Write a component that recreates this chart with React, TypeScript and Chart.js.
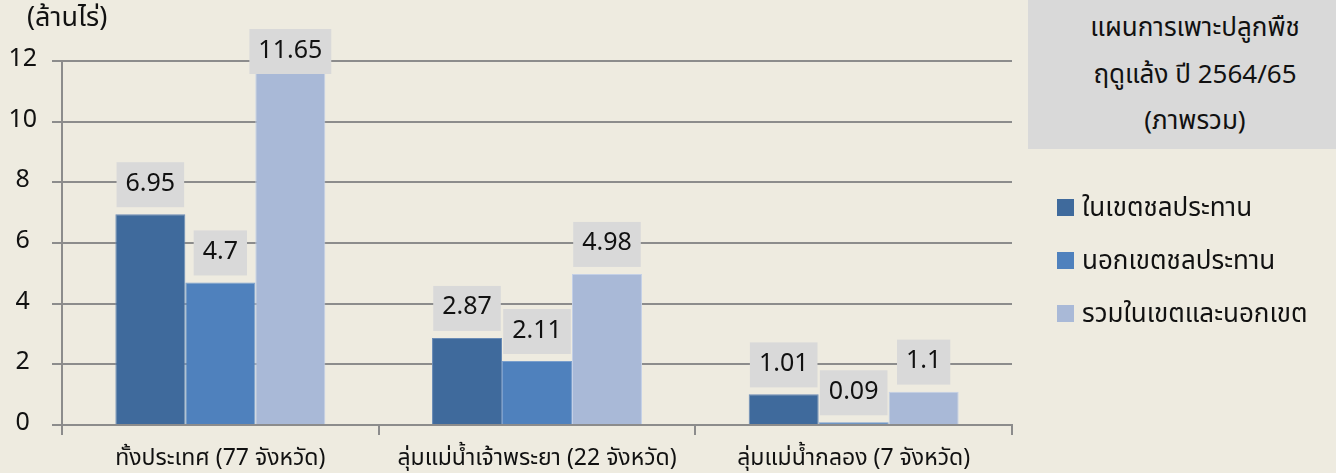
import React, { useEffect, useRef } from "react";
import { Chart, registerables } from "chart.js";

Chart.register(...registerables);

const categories = [
  "ทั้งประเทศ (77 จังหวัด)",
  "ลุ่มแม่น้ำเจ้าพระยา (22 จังหวัด)",
  "ลุ่มแม่น้ำกลอง (7 จังหวัด)",
];
const seriesNames = ["ในเขตชลประทาน", "นอกเขตชลประทาน", "รวมในเขตและนอกเขต"];
const inIrrigated = [6.95, 2.87, 1.01];
const outIrrigated = [4.7, 2.11, 0.09];
const totalArea = [11.65, 4.98, 1.1];
const seriesColors = ["#3F6A9C", "#4F81BD", "#A9B9D7"];
const seriesEdges = ["#6A8BB5", "#7A9FCD", "#C4D0E6"];
const titleLines = ["แผนการเพาะปลูกพืช", "ฤดูแล้ง ปี 2564/65", "(ภาพรวม)"];
const unitLabel = "(ล้านไร่)";
const yMax = 12;
const yStep = 2;

const FONT = '"Noto Sans Thai", "Noto Sans", "DejaVu Sans", sans-serif';
const BG = "#EEEBE0";
const BOX = "#D9D9D9";

const labelPlugin = {
  id: "valueBoxes",
  afterDatasetsDraw(chart: any) {
    const ctx = chart.ctx;
    ctx.save();
    ctx.font = `25px ${FONT}`;
    chart.data.datasets.forEach((ds: any, i: number) => {
      const meta = chart.getDatasetMeta(i);
      meta.data.forEach((bar: any, j: number) => {
        const v = ds.data[j];
        const txt = String(v);
        const w = ctx.measureText(txt).width + 18;
        const h = 45;
        let top = bar.y - 7 - h;
        if (top < 29) top = 29;
        ctx.fillStyle = BOX;
        ctx.fillRect(bar.x - w / 2, top, w, h);
        ctx.fillStyle = "#111";
        ctx.textAlign = "center";
        ctx.textBaseline = "middle";
        ctx.fillText(txt, bar.x, top + h / 2 + 1);
      });
    });
    ctx.font = `27px ${FONT}`;
    ctx.fillStyle = "#111";
    ctx.textAlign = "left";
    ctx.textBaseline = "middle";
    ctx.fillText(unitLabel, 27, 21);
    ctx.restore();
  },
};

export default function App() {
  const ref = useRef<HTMLCanvasElement>(null);
  useEffect(() => {
    document.body.style.margin = "0";
    const values = [inIrrigated, outIrrigated, totalArea];
    const chart = new Chart(ref.current as HTMLCanvasElement, {
      type: "bar",
      data: {
        labels: categories,
        datasets: seriesNames.map((n, i) => ({
          label: n,
          data: values[i],
          backgroundColor: seriesColors[i],
          borderColor: seriesEdges[i],
          borderWidth: { top: 1, left: 1, right: 1, bottom: 0 },
          barPercentage: 1,
          categoryPercentage: 0.663,
        })),
      },
      options: {
        animation: false,
        responsive: false,
        devicePixelRatio: 1,
        layout: { padding: { top: 61, right: 324, left: 0, bottom: 0 } },
        plugins: { legend: { display: false }, tooltip: { enabled: false } },
        scales: {
          x: {
            afterFit: (s: any) => {
              s.height = 48;
            },
            grid: {
              offset: true,
              drawOnChartArea: false,
              drawTicks: true,
              tickLength: 10,
              color: "#8C8C8C",
              lineWidth: 2,
            },
            border: { color: "#8C8C8C", width: 2 },
            ticks: {
              color: "#111",
              font: { family: FONT, size: 23 },
              padding: 12,
              maxRotation: 0,
            },
          },
          y: {
            min: 0,
            max: yMax,
            afterFit: (s: any) => {
              s.width = 62;
            },
            grid: { color: "#8C8C8C", lineWidth: 2, tickLength: 10 },
            border: { color: "#8C8C8C", width: 2 },
            ticks: {
              stepSize: yStep,
              color: "#111",
              font: { family: FONT, size: 25 },
              crossAlign: "center",
              padding: 15,
            },
          },
        },
      },
      plugins: [labelPlugin],
    });
    return () => chart.destroy();
  }, []);

  return (
    <div
      style={{
        position: "fixed",
        left: 0,
        top: 0,
        width: 1336,
        height: 473,
        background: BG,
        fontFamily: FONT,
        color: "#111",
      }}
    >
      <canvas ref={ref} width={1336} height={473} style={{ position: "absolute", left: 0, top: 0 }} />
      <div
        style={{
          position: "absolute",
          left: 1028,
          top: 0,
          width: 308,
          height: 149,
          background: BOX,
          boxSizing: "border-box",
          paddingTop: 5,
          paddingLeft: 26,
          textAlign: "center",
          fontSize: 26,
          lineHeight: "46.5px",
          whiteSpace: "nowrap",
        }}
      >
        {titleLines.map((t, i) => (
          <div key={i}>{t}</div>
        ))}
      </div>
      <div style={{ position: "absolute", left: 1057, top: 181 }}>
        {seriesNames.map((n, i) => (
          <div
            key={i}
            style={{ display: "flex", alignItems: "center", height: 53, fontSize: 26, whiteSpace: "nowrap" }}
          >
            <span
              style={{ width: 17, height: 17, background: seriesColors[i], marginRight: 8, display: "inline-block" }}
            />
            <span>{n}</span>
          </div>
        ))}
      </div>
    </div>
  );
}
